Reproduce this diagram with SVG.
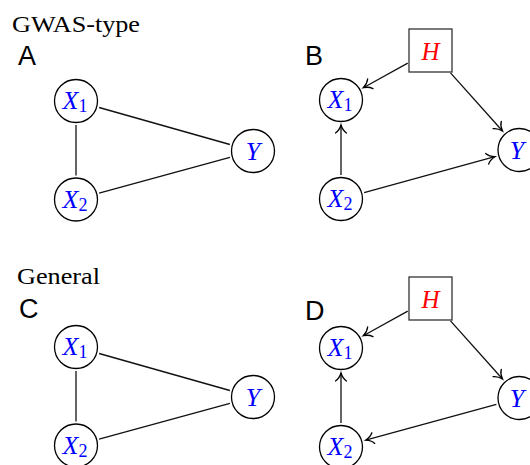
<svg xmlns="http://www.w3.org/2000/svg" width="530" height="465" viewBox="0 0 530 465">
<style>
.bg{fill:#fff}
.nd{fill:#fff;stroke:#000;stroke-width:1.3}
.bx{fill:#fff;stroke:#333;stroke-width:1.3}
.ed{fill:none;stroke:#111;stroke-width:1.3}
.ar{marker-end:url(#to)}
.v{font-family:"Liberation Serif",serif;font-style:italic;font-size:26px;fill:#0000ff;text-anchor:middle}
.h{font-family:"Liberation Serif",serif;font-style:italic;font-size:25px;fill:#ff0000;text-anchor:middle}
.sub{font-style:normal;font-size:18px}
.pl{font-family:"Liberation Sans",Arial,sans-serif;font-size:27px;fill:#000}
.tt{font-family:"Liberation Serif",serif;font-size:24px;fill:#000}
</style>
<defs>
<marker id="to" markerUnits="userSpaceOnUse" viewBox="-10 -7 12 14" refX="0" refY="0" markerWidth="12" markerHeight="14" orient="auto" overflow="visible">
<path d="M -8,-5.5 C -6,-2.5 -2,-0.6 0,0 C -2,0.6 -6,2.5 -8,5.5" fill="none" stroke="#000" stroke-width="1.3" stroke-linecap="round"/>
</marker>
</defs>
<rect class="bg" x="0" y="0" width="530" height="465"/>
<text class="tt" x="12" y="32" textLength="128" lengthAdjust="spacingAndGlyphs">GWAS-type</text>
<text class="tt" x="17" y="284" textLength="83" lengthAdjust="spacingAndGlyphs">General</text>
<text class="pl" x="18" y="65">A</text>
<text class="pl" x="305" y="65">B</text>
<text class="pl" x="19" y="318">C</text>
<text class="pl" x="305" y="320">D</text>
<g id="connectors">
<line class="ed" x1="99.1" y1="107.5" x2="229.9" y2="144.5"/>
<line class="ed" x1="99.1" y1="193.2" x2="229.9" y2="157.3"/>
<line class="ed" x1="76" y1="125" x2="76" y2="175.5"/>
<line class="ed" x1="99.1" y1="353.5" x2="229.9" y2="390.5"/>
<line class="ed" x1="99.1" y1="439.2" x2="229.9" y2="403.3"/>
<line class="ed" x1="76" y1="371" x2="76" y2="421.5"/>
<line class="ed ar" x1="407.75" y1="63.1" x2="363.3" y2="87.7"/>
<line class="ed ar" x1="450.5" y1="72.9" x2="502.5" y2="131"/>
<line class="ed ar" x1="341" y1="175" x2="341" y2="125"/>
<line class="ed ar" x1="364.1" y1="192.6" x2="494.9" y2="156.7"/>
<line class="ed ar" x1="407.75" y1="311.1" x2="363.3" y2="335.7"/>
<line class="ed ar" x1="450.5" y1="320.9" x2="502.5" y2="379"/>
<line class="ed ar" x1="341" y1="423" x2="341" y2="373"/>
<line class="ed ar" x1="496.4" y1="404.4" x2="365.6" y2="440.2"/>
</g>
<g id="A_X1"><circle class="nd" cx="76" cy="101" r="21.5"/><text class="v" x="75" y="109">X<tspan class="sub" dy="3">1</tspan></text></g>
<g id="A_X2"><circle class="nd" cx="76" cy="199.5" r="21.5"/><text class="v" x="75" y="207.5">X<tspan class="sub" dy="3">2</tspan></text></g>
<g id="A_Y"><circle class="nd" cx="253" cy="151" r="21.5"/><text class="v" x="253" y="159.5">Y</text></g>
<g id="C_X1"><circle class="nd" cx="76" cy="347" r="21.5"/><text class="v" x="75" y="355">X<tspan class="sub" dy="3">1</tspan></text></g>
<g id="C_X2"><circle class="nd" cx="76" cy="445.5" r="21.5"/><text class="v" x="75" y="453.5">X<tspan class="sub" dy="3">2</tspan></text></g>
<g id="C_Y"><circle class="nd" cx="253" cy="397" r="21.5"/><text class="v" x="253" y="405.5">Y</text></g>
<g id="B_H"><rect class="bx" x="409" y="29" width="43" height="43"/><text class="h" x="430.5" y="59.5">H</text></g>
<g id="B_X1"><circle class="nd" cx="341" cy="100" r="21.5"/><text class="v" x="340" y="108">X<tspan class="sub" dy="3">1</tspan></text></g>
<g id="B_X2"><circle class="nd" cx="341" cy="199" r="21.5"/><text class="v" x="340" y="207">X<tspan class="sub" dy="3">2</tspan></text></g>
<g id="B_Y"><circle class="nd" cx="519.5" cy="150" r="21.5"/><text class="v" x="517" y="158.5">Y</text></g>
<g id="D_H"><rect class="bx" x="409" y="277" width="43" height="43"/><text class="h" x="430.5" y="307.5">H</text></g>
<g id="D_X1"><circle class="nd" cx="341" cy="348" r="21.5"/><text class="v" x="340" y="356">X<tspan class="sub" dy="3">1</tspan></text></g>
<g id="D_X2"><circle class="nd" cx="341" cy="447" r="21.5"/><text class="v" x="340" y="455">X<tspan class="sub" dy="3">2</tspan></text></g>
<g id="D_Y"><circle class="nd" cx="519.5" cy="398" r="21.5"/><text class="v" x="517" y="406.5">Y</text></g>
</svg>
